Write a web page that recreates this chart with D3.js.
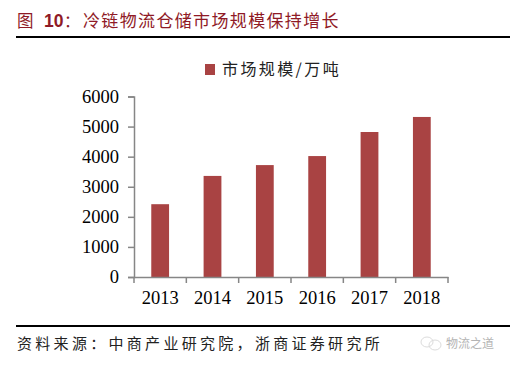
<!DOCTYPE html>
<html>
<head>
<meta charset="utf-8">
<script src="https://cdn.jsdelivr.net/npm/d3@7"></script>
<style>
  html, body { margin: 0; padding: 0; background: #fff; }
  svg { display: block; }
</style>
</head>
<body>
<svg id="chart" width="510" height="365"></svg>
<script>
  // DATA
  const years = ["2013", "2014", "2015", "2016", "2017", "2018"];
  const marketSize = [2420, 3360, 3720, 4020, 4820, 5320];
  const yTicks = [0, 1000, 2000, 3000, 4000, 5000, 6000];
  const seriesName = "市场规模/万吨";
  const titleText = "冷链物流仓储市场规模保持增长";
  const sourceText = "资料来源：中商产业研究院，浙商证券研究所";
  const watermark = "物流之道";

  const serif = "'Liberation Serif', serif";
  const cjk = "'Noto Sans CJK SC', sans-serif";
  const axisColor = "#868686";
  const barColor = "#a94343";

  const svg = d3.select("#chart");

  // SCALES
  const margin = { top: 96.5, right: 62, bottom: 88, left: 134 },
    width = 510 - margin.left - margin.right,
    height = 365 - margin.top - margin.bottom;

  const x = d3.scaleBand().domain(years).range([0, width]).paddingInner(0.66).paddingOuter(0.33);
  const y = d3.scaleLinear().domain([0, 6000]).range([height, 0]);

  // HEADER
  const title = svg.append("g").attr("fill", "#8f1a26");
  title.append("text").attr("x", 17).attr("y", 27).attr("font-family", cjk).attr("font-size", 16.5).text("图");
  title.append("text").attr("x", 44).attr("y", 27).attr("font-family", "'Liberation Sans', sans-serif")
    .attr("font-size", 17.5).attr("font-weight", "bold").text("10");
  title.append("text").attr("x", 64).attr("y", 27).attr("font-family", cjk).attr("font-size", 16).text("：");
  title.append("text").attr("x", 83).attr("y", 27).attr("font-family", cjk).attr("font-size", 17)
    .attr("letter-spacing", 1.35).text(titleText);

  svg.append("line").attr("x1", 16).attr("x2", 510).attr("y1", 37).attr("y2", 37)
    .attr("stroke", "#000").attr("stroke-width", 2);

  // LEGEND
  svg.append("rect").attr("x", 205).attr("y", 64).attr("width", 10).attr("height", 11).attr("fill", barColor);
  svg.append("text").attr("x", 222).attr("y", 75).attr("font-family", cjk).attr("font-size", 16)
    .attr("letter-spacing", 2.4).attr("fill", "#222").text(seriesName);

  // CHART
  const g = svg.append("g").attr("transform", `translate(${margin.left},${margin.top})`);

  g.selectAll("rect")
    .data(years)
    .join("rect")
    .attr("x", (d) => x(d))
    .attr("y", (d, i) => y(marketSize[i]))
    .attr("width", x.bandwidth())
    .attr("height", (d, i) => y(0) - y(marketSize[i]))
    .attr("fill", barColor);

  const gy = g.append("g").call(d3.axisLeft(y).tickValues(yTicks).tickSize(6).tickPadding(9).tickFormat(d3.format("d")));
  const gx = g.append("g").attr("transform", `translate(0,${height})`)
    .call(d3.axisBottom(x).tickSize(0).tickPadding(14));

  // tick marks sit between the categories on the x axis
  gx.selectAll(".sep")
    .data(d3.range(years.length + 1))
    .join("line")
    .attr("class", "sep")
    .attr("x1", (i) => (i * width) / years.length)
    .attr("x2", (i) => (i * width) / years.length)
    .attr("y1", 0)
    .attr("y2", 6)
    .attr("stroke", axisColor)
    .attr("stroke-width", 1.5);

  [gx, gy].forEach((a) => {
    a.selectAll(".domain").attr("stroke", axisColor).attr("stroke-width", 1.5);
    a.selectAll(".tick line").attr("stroke", axisColor).attr("stroke-width", 1.5);
    a.selectAll("text").attr("font-family", serif).attr("font-size", 18.5).attr("fill", "#000");
  });

  // FOOTER
  svg.append("line").attr("x1", 16).attr("x2", 510).attr("y1", 326).attr("y2", 326)
    .attr("stroke", "#000").attr("stroke-width", 2);
  svg.append("text").attr("x", 17).attr("y", 349).attr("font-family", cjk).attr("font-size", 15)
    .attr("letter-spacing", 3.3).attr("fill", "#222").text(sourceText);

  // watermark
  const wm = svg.append("g").attr("fill", "none").attr("stroke", "#dcdcdc");
  wm.append("ellipse").attr("cx", 427).attr("cy", 342).attr("rx", 6).attr("ry", 5);
  wm.append("ellipse").attr("cx", 435).attr("cy", 345).attr("rx", 6).attr("ry", 5);
  svg.append("text").attr("x", 446).attr("y", 348).attr("font-family", cjk).attr("font-size", 12)
    .attr("fill", "#b4b4b4").text(watermark);
</script>
</body>
</html>
